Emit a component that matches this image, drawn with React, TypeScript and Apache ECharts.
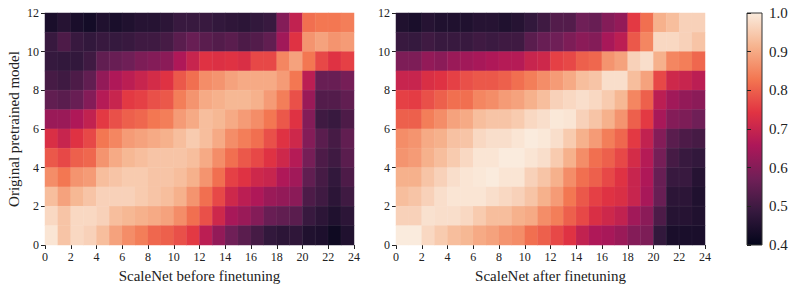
import React, { useEffect, useRef } from "react";
import * as echarts from "echarts";

const columns = Array.from({ length: 24 }, (_, i) => String(i));
const rows = Array.from({ length: 12 }, (_, i) => String(i));

// Rows listed from top (y 11-12) to bottom (y 0-1)
const beforeFinetuning: number[][] = [
  [.44,.46,.44,.43,.45,.44,.45,.46,.46,.47,.49,.49, .49,.48,.475,.47,.48,.49,.60,.69,.82,.83,.83,.84],
  [.49,.52,.49,.48,.49,.485,.49,.50,.50,.51,.54,.56, .54,.53,.54,.52,.53,.55,.64,.74,.87,.89,.87,.88],
  [.485,.48,.48,.50,.55,.56,.57,.59,.60,.61,.66,.70, .74,.735,.74,.73,.77,.77,.85,.89,.83,.77,.74,.76],
  [.51,.50,.52,.55,.62,.66,.68,.70,.72,.74,.79,.82, .86,.87,.89,.90,.90,.90,.88,.83,.68,.56,.56,.58],
  [.55,.54,.56,.60,.67,.70,.75,.76,.78,.79,.84,.87, .90,.91,.92,.92,.91,.88,.84,.78,.63,.53,.53,.55],
  [.63,.63,.66,.69,.75,.78,.80,.81,.83,.84,.88,.90, .93,.92,.90,.88,.86,.83,.79,.74,.60,.50,.49,.52],
  [.73,.70,.74,.77,.83,.85,.88,.89,.90,.91,.93,.95, .93,.90,.86,.84,.82,.78,.74,.71,.60,.54,.51,.55],
  [.79,.77,.80,.81,.87,.90,.92,.93,.94,.94,.94,.93, .90,.86,.82,.79,.77,.74,.71,.67,.58,.52,.50,.54],
  [.86,.83,.87,.88,.93,.94,.95,.95,.94,.94,.93,.91, .87,.82,.76,.74,.71,.70,.66,.64,.55,.51,.48,.52],
  [.93,.89,.92,.94,.96,.96,.96,.95,.94,.93,.91,.87, .82,.77,.71,.68,.66,.63,.62,.61,.52,.50,.47,.50],
  [.97,.94,.97,.97,.96,.93,.92,.91,.90,.89,.86,.82, .78,.71,.65,.63,.60,.56,.55,.54,.49,.47,.45,.47],
  [.99,.94,.97,.96,.93,.89,.86,.84,.81,.80,.78,.75, .68,.62,.57,.54,.51,.48,.47,.475,.45,.445,.42,.45],
];

const afterFinetuning: number[][] = [
  [.45,.44,.46,.45,.45,.45,.46,.46,.45,.46,.48,.50, .53,.53,.57,.56,.60,.62,.75,.82,.91,.93,.96,.96],
  [.49,.485,.50,.49,.49,.49,.50,.495,.50,.50,.54,.56, .57,.59,.61,.60,.65,.68,.79,.85,.97,.97,.96,.94],
  [.59,.59,.62,.61,.63,.64,.65,.66,.67,.67,.70,.71, .76,.77,.80,.81,.87,.89,.96,.98,.91,.85,.84,.81],
  [.70,.70,.73,.74,.76,.78,.79,.79,.80,.82,.84,.86, .88,.90,.93,.94,.98,.98,.93,.89,.77,.71,.70,.68],
  [.76,.755,.78,.80,.82,.82,.85,.86,.88,.89,.91,.93, .96,.97,.98,.97,.95,.92,.85,.80,.68,.64,.62,.61],
  [.80,.80,.84,.86,.89,.90,.93,.94,.94,.95,.97,.98, .995,.99,.96,.94,.91,.87,.80,.75,.65,.60,.59,.57],
  [.86,.87,.90,.91,.935,.94,.97,.98,.98,.99,1.0,.995, .98,.95,.91,.88,.84,.81,.75,.69,.60,.54,.52,.51],
  [.87,.88,.91,.93,.95,.97,.99,.99,1.0,1.0,.99,.98, .95,.91,.86,.82,.80,.77,.72,.67,.58,.51,.49,.48],
  [.91,.91,.94,.96,.98,.99,.995,1.0,.99,.99,.96,.94, .91,.86,.82,.80,.77,.74,.70,.66,.56,.49,.49,.46],
  [.93,.94,.96,.98,.99,.99,.99,.98,.97,.96,.94,.91, .88,.83,.79,.76,.74,.73,.70,.65,.56,.47,.47,.45],
  [.96,.96,.985,.98,.98,.97,.95,.93,.93,.91,.90,.86, .84,.80,.77,.73,.71,.69,.64,.61,.52,.46,.46,.45],
  [1.0,1.0,.97,.95,.93,.92,.90,.89,.87,.86,.82,.80, .77,.74,.69,.66,.65,.63,.60,.59,.48,.44,.44,.44],
];

const rocket = ["#03051a", "#35193e", "#701f57", "#ad1759", "#e13342", "#f37651", "#f6b48f", "#faebdd"];

const FONT = "Liberation Serif";
const INK = "#222";

const toCells = (table: number[][]) =>
  table.flatMap((row, r) => row.map((v, c) => [c, table.length - 1 - r, v]));

const hiddenCat = (gridIndex: number, data: string[]) => ({
  type: "category" as const,
  gridIndex,
  data,
  show: false,
});

const valueX = (gridIndex: number, name: string) => ({
  type: "value" as const,
  gridIndex,
  position: "bottom",
  min: 0,
  max: 24,
  interval: 2,
  name,
  nameLocation: "middle",
  nameGap: 23,
  nameTextStyle: { fontFamily: FONT, fontSize: 15, color: INK },
  splitLine: { show: false },
  axisLine: { show: false },
  axisTick: { show: true, length: 4, lineStyle: { color: INK, width: 1 } },
  axisLabel: { fontFamily: FONT, fontSize: 12, color: INK, margin: 6, hideOverlap: false },
});

const valueY = (gridIndex: number, name?: string) => ({
  type: "value" as const,
  gridIndex,
  position: "left",
  min: 0,
  max: 12,
  interval: 2,
  name,
  nameLocation: "middle",
  nameGap: 24,
  nameRotate: 90,
  nameTextStyle: { fontFamily: FONT, fontSize: 15, color: INK },
  splitLine: { show: false },
  axisLine: { show: false },
  axisTick: { show: true, length: 4, lineStyle: { color: INK, width: 1 } },
  axisLabel: { fontFamily: FONT, fontSize: 12, color: INK, margin: 6 },
});

const heat = (gridIdx: number, table: number[][]) => ({
  type: "heatmap" as const,
  xAxisIndex: gridIdx * 2,
  yAxisIndex: gridIdx * 2,
  data: toCells(table),
  itemStyle: { borderColor: "rgba(255,255,255,0.07)", borderWidth: 0.6 },
  emphasis: { disabled: true },
});

export default function App() {
  const ref = useRef<HTMLDivElement>(null);
  useEffect(() => {
    const chart = echarts.init(ref.current!, undefined, { renderer: "svg" });
    chart.setOption({
      animation: false,
      backgroundColor: "#fff",
      grid: [
        { left: 45, top: 13, width: 309, height: 232 },
        { left: 396, top: 13, width: 309, height: 232 },
        {
          left: 747,
          top: 13,
          width: 15,
          height: 232,
          show: true,
          borderColor: "#333",
          borderWidth: 1,
          backgroundColor: new echarts.graphic.LinearGradient(
            0, 1, 0, 0,
            rocket.map((color, i) => ({ offset: i / (rocket.length - 1), color }))
          ),
        },
      ],
      xAxis: [
        hiddenCat(0, columns),
        valueX(0, "ScaleNet before finetuning"),
        hiddenCat(1, columns),
        valueX(1, "ScaleNet after finetuning"),
        { type: "value", gridIndex: 2, show: false, min: 0, max: 1 },
      ],
      yAxis: [
        hiddenCat(0, rows),
        valueY(0, "Original pretrained model"),
        hiddenCat(1, rows),
        valueY(1),
        {
          type: "value",
          gridIndex: 2,
          position: "right",
          min: 0.4,
          max: 1.0,
          interval: 0.1,
          splitLine: { show: false },
          axisLine: { show: false },
          axisTick: { show: true, length: 4, lineStyle: { color: INK, width: 1 } },
          axisLabel: {
            fontFamily: FONT,
            fontSize: 15,
            color: INK,
            margin: 7,
            formatter: (v: number) => v.toFixed(1),
          },
        },
      ],
      visualMap: {
        show: false,
        min: 0.4,
        max: 1.0,
        dimension: 2,
        seriesIndex: [0, 1],
        inRange: { color: rocket },
      },
      series: [heat(0, beforeFinetuning), heat(1, afterFinetuning)],
    });
    return () => chart.dispose();
  }, []);
  return (
    <div
      ref={ref}
      style={{ position: "absolute", left: 0, top: 0, width: 797, height: 289 }}
    />
  );
}
